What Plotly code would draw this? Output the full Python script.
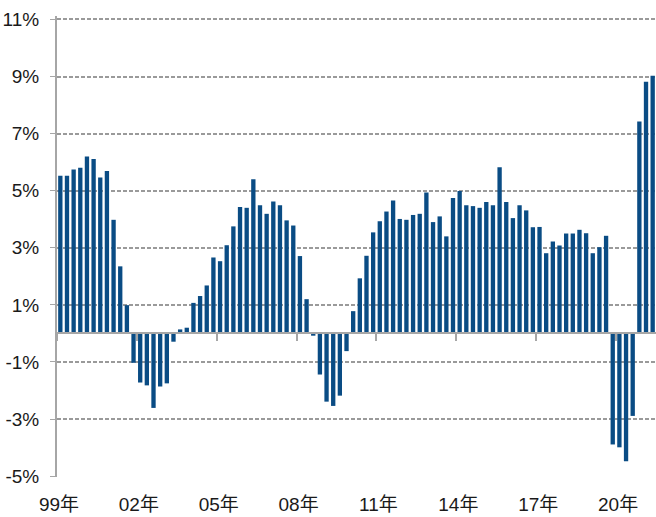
import plotly.graph_objects as go

# Quarterly series, 1999Q1 .. 2021Q2
periods = [f"{y}Q{q}" for y in range(1999, 2022) for q in range(1, 5)][:90]
values = [
    5.52, 5.52, 5.74, 5.80, 6.20, 6.11, 5.46, 5.69, 3.98, 2.35, 0.99, -1.03,
    -1.72, -1.82, -2.61, -1.86, -1.75, -0.29, 0.14, 0.20, 1.07, 1.31, 1.68, 2.66,
    2.53, 3.09, 3.75, 4.43, 4.40, 5.40, 4.49, 4.19, 4.62, 4.49, 3.96, 3.78,
    2.71, 1.20, -0.08, -1.44, -2.39, -2.54, -2.18, -0.62, 0.78, 1.93, 2.72, 3.54,
    3.93, 4.27, 4.66, 4.01, 3.98, 4.15, 4.19, 4.94, 3.90, 4.10, 3.40, 4.74,
    4.99, 4.49, 4.46, 4.40, 4.60, 4.49, 5.82, 4.60, 4.04, 4.49, 4.31, 3.72,
    3.73, 2.81, 3.22, 3.08, 3.50, 3.50, 3.63, 3.51, 2.81, 3.02, 3.42, -3.89,
    -3.99, -4.48, -2.89, 7.42, 8.82, 9.03,
]
x_tick_labels = ["99年", "02年", "05年", "08年", "11年", "14年", "17年", "20年"]
y_tick_vals = [-5, -3, -1, 1, 3, 5, 7, 9, 11]
y_tick_text = [f"{v}%" for v in y_tick_vals]

x_idx = list(range(len(periods)))
boundaries = [12 * k - 0.5 for k in range(len(x_tick_labels))]

FONT = "Liberation Sans Narrow, Arial Narrow, Liberation Sans, Noto Sans CJK SC, sans-serif"
BAR = "#0A4C84"
AXIS = "#A6A6A6"
GRID = "#9A9A9A"
FS = 19

fig = go.Figure()
fig.add_trace(go.Bar(
    x=x_idx, y=values, marker_color=BAR, marker_line_width=0,
    hovertext=periods, showlegend=False,
))
# invisible helper trace for the zero-line axis with ticks
fig.add_trace(go.Scatter(
    x=[x_idx[0]], y=[0], xaxis="x2", mode="markers",
    marker=dict(opacity=0), showlegend=False, hoverinfo="skip",
))

yr = [-5.03, 11.12]
fig.update_layout(
    width=656, height=517,
    margin=dict(l=57, r=0, t=16, b=40, autoexpand=False),
    paper_bgcolor="white", plot_bgcolor="white",
    bargap=0.35,
    font=dict(family=FONT, size=FS, color="#1a1a1a"),
    xaxis=dict(
        range=[-0.5, len(periods) - 0.5], automargin=False,
        tickmode="array", tickvals=[b + 0.3 for b in boundaries], ticktext=x_tick_labels,
        showline=False, showgrid=False, zeroline=False, ticks="",
        tickfont=dict(family=FONT, size=FS, color="#1a1a1a"),
        ticklabelstandoff=14,
    ),
    xaxis2=dict(
        overlaying="x", matches="x", anchor="free", automargin=False,
        position=(0 - yr[0]) / (yr[1] - yr[0]),
        tickmode="array", tickvals=boundaries, showticklabels=False,
        ticks="outside", ticklen=7, tickwidth=2, tickcolor=AXIS,
        showline=True, linecolor=AXIS, linewidth=2,
        showgrid=False, zeroline=False,
    ),
    yaxis=dict(
        range=yr, automargin=False,
        tickmode="array", tickvals=y_tick_vals, ticktext=y_tick_text,
        showline=True, linecolor=AXIS, linewidth=2,
        ticks="outside", ticklen=5, tickwidth=1, tickcolor=AXIS,
        showgrid=True, gridcolor=GRID, gridwidth=1.5, griddash="4px,2px",
        zeroline=False,
        tickfont=dict(family=FONT, size=FS, color="#1a1a1a"),
        ticklabelstandoff=7,
    ),
)

fig.write_html(
    "out.html",
    config={"displayModeBar": False},
    post_script="document.body.style.margin='0';",
)
